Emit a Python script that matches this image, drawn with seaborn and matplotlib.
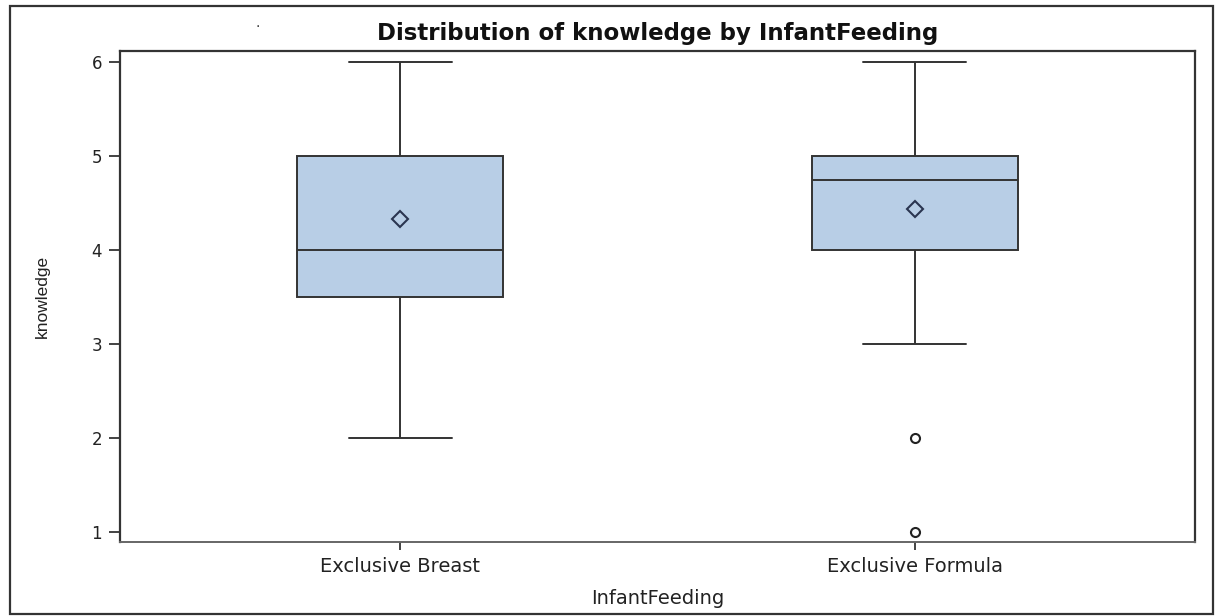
import numpy as np
import pandas as pd
import seaborn as sns
import matplotlib
matplotlib.use("Agg")
import matplotlib.pyplot as plt
from matplotlib.patches import Rectangle

# Data (observations reconstructed to reproduce the box statistics shown)
categories = ["Exclusive Breast", "Exclusive Formula"]
breast_values = [2, 3.5, 3.5, 4, 4, 5, 5, 6, 6]
formula_values = [1, 2, 3, 3.5, 4, 4, 4.75, 4.75, 4.75, 5, 5, 5, 5, 5.75, 6, 6, 6]
y_ticks = [1, 2, 3, 4, 5, 6]

df = pd.DataFrame({
    "InfantFeeding": [categories[0]] * len(breast_values) + [categories[1]] * len(formula_values),
    "knowledge": breast_values + formula_values,
})

sns.set_theme(style="white")
plt.rcParams["font.family"] = ["DejaVu Sans"]

fig = plt.figure(figsize=(12.18, 6.16), dpi=100)
ax = fig.add_axes([120 / 1218, 1 - 542 / 616, (1195 - 120) / 1218, (542 - 51) / 616])

edge = "#333333"
sns.boxplot(
    data=df, x="InfantFeeding", y="knowledge", order=categories, ax=ax,
    color="#B8CEE6", width=0.40, linewidth=1.4, showmeans=True,
    boxprops=dict(facecolor="#B8CEE6", edgecolor=edge),
    whiskerprops=dict(color=edge), capprops=dict(color=edge),
    medianprops=dict(color=edge),
    meanprops=dict(marker="D", markerfacecolor="none", markeredgecolor="#2A3550",
                   markersize=8, markeredgewidth=1.5),
    flierprops=dict(marker="o", markerfacecolor="none", markeredgecolor="#222222",
                    markersize=6.5, markeredgewidth=1.5),
)

ax.set_xlim(-0.544, 1.544)
ax.set_ylim(0.894, 6.117)
ax.set_yticks(y_ticks)
ax.set_yticklabels([str(v) for v in y_ticks], fontsize=12, color="#222222")
ax.tick_params(axis="x", labelsize=14, colors="#222222", length=6, width=1.2, direction="out", bottom=True, pad=5)
ax.tick_params(axis="y", length=8, width=1.2, direction="out", left=True, pad=5, colors="#222222")
for side in ["left", "right", "top"]:
    ax.spines[side].set_color("#333333")
    ax.spines[side].set_linewidth(1.6)
ax.spines["bottom"].set_color("#666666")
ax.spines["bottom"].set_linewidth(1.4)

ax.set_xlabel("InfantFeeding", fontsize=14, color="#222222", labelpad=9)
ax.set_ylabel("knowledge", fontsize=12.5, color="#222222", labelpad=30,
              fontstretch="condensed", family="Liberation Sans")
ax.set_title("Distribution of knowledge by InfantFeeding", fontsize=16.5,
             fontweight="bold", color="#111111", pad=8)

fig.patches.append(Rectangle((10 / 1218, 2 / 616), 1203 / 1218, 608 / 616,
                             transform=fig.transFigure, fill=False,
                             edgecolor="#333333", linewidth=1.6))
fig.text(258 / 1218, 1 - 27 / 616, "·", fontsize=10, color="#333333", ha="center", va="center")

fig.savefig("out.png", dpi=100)
